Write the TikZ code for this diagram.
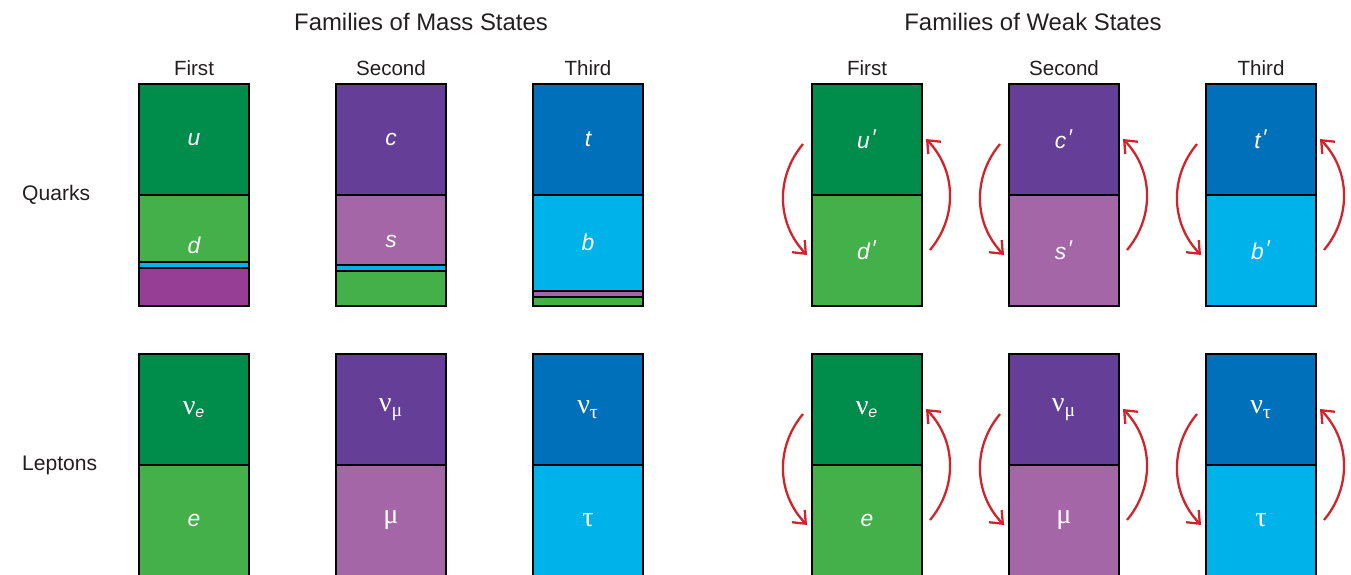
\documentclass[tikz,border=0pt]{standalone}
\usepackage{fontspec}
\setmainfont{Liberation Sans}
\newfontfamily\greek{Liberation Serif}
\usetikzlibrary{positioning,arrows.meta}

\definecolor{dkgreen}{RGB}{0,140,75}
\definecolor{ltgreen}{RGB}{67,176,74}
\definecolor{dkpurple}{RGB}{100,62,151}
\definecolor{ltpurple}{RGB}{165,102,168}
\definecolor{mdpurple}{RGB}{150,62,150}
\definecolor{dkblue}{RGB}{0,112,186}
\definecolor{ltblue}{RGB}{0,178,234}
\definecolor{flipred}{RGB}{210,35,42}
\definecolor{ink}{RGB}{35,31,32}

\newcommand{\gr}[1]{{\greek\fontsize{16}{18}\selectfont #1}}
\newcommand{\nusub}[1]{\gr{ν\textsubscript{#1}}}
\newcommand{\wk}[1]{{\itshape #1}\kern1.5pt\raisebox{1.5pt}{′}}

\tikzset{
  cell/.style={draw, line width=1.3pt, outer sep=0pt, inner sep=0pt,
    minimum width=2.2cm, minimum height=2.22cm, text=white,
    font=\fontsize{13}{15}\selectfont},
  lift/.style={text depth=#1},
  head/.style={text=ink, font=\fontsize{13.6}{16}\selectfont},
  col/.style={text=ink, font=\fontsize{11.7}{14}\selectfont},
  row/.style={text=ink, anchor=west, font=\fontsize{12}{14}\selectfont},
  stripe/.style={draw, line width=0.8pt},
  flip/.style={draw=flipred, line width=1.3pt,
    -{Straight Barb[length=6pt,width=10pt]}, bend right=42},
}

\begin{document}
\begin{tikzpicture}
      \useasboundingbox (0,0) rectangle (27.02,-11.5);

      % mass states
      \node[head] (mass) at (8.42,-0.44) {Families of Mass States};
      \node[cell,fill=dkgreen] (u) at (3.88,-2.79) {\itshape u};
      \node[cell,fill=ltgreen,lift=0.2cm,below=0pt of u] (d) {\itshape d};
      \node[cell,fill=dkpurple] (c) at (7.82,-2.79) {\itshape c};
      \node[cell,fill=ltpurple,lift=0.36cm,below=0pt of c] (s) {\itshape s};
      \node[cell,fill=dkblue] (t) at (11.76,-2.79) {\itshape t};
      \node[cell,fill=ltblue,lift=0.32cm,below=0pt of t] (b) {\itshape b};

      \node[col,above=1pt of u] (first) {First};
      \node[col,above=1pt of c] (second) {Second};
      \node[col,above=1pt of t] (third) {Third};

      % admixtures at the bottom of the lower states
      \filldraw[stripe,fill=mdpurple] (d.south west) rectangle ([yshift=0.76cm]d.south east);
      \filldraw[stripe,fill=ltblue] ([yshift=0.76cm]d.south west) rectangle ([yshift=0.88cm]d.south east);
      \draw[line width=1.3pt] (d.north west) rectangle (d.south east);
      \filldraw[stripe,fill=ltgreen] (s.south west) rectangle ([yshift=0.7cm]s.south east);
      \filldraw[stripe,fill=ltblue] ([yshift=0.7cm]s.south west) rectangle ([yshift=0.82cm]s.south east);
      \draw[line width=1.3pt] (s.north west) rectangle (s.south east);
      \filldraw[stripe,fill=ltgreen] (b.south west) rectangle ([yshift=0.18cm]b.south east);
      \filldraw[stripe,fill=ltpurple] ([yshift=0.18cm]b.south west) rectangle ([yshift=0.3cm]b.south east);
      \draw[line width=1.3pt] (b.north west) rectangle (b.south east);

      \node[cell,fill=dkgreen] (nue) at (3.88,-8.19) {\gr{ν}\textsubscript{\itshape e}};
      \node[cell,fill=ltgreen,below=0pt of nue] (e) {\itshape e};
      \node[cell,fill=dkpurple] (numu) at (7.82,-8.19) {\nusub{μ}};
      \node[cell,fill=ltpurple,below=0pt of numu] (mu) {\gr{μ}};
      \node[cell,fill=dkblue] (nutau) at (11.76,-8.19) {\nusub{τ}};
      \node[cell,fill=ltblue,below=0pt of nutau] (tau) {\gr{τ}};

      \node[row] (quarks) at (0.32,-3.9) {Quarks};
      \node[row] (leptons) at (0.32,-9.3) {Leptons};

      % weak states
      \node[head] (weak) at (20.66,-0.44) {Families of Weak States};
      \node[cell,fill=dkgreen] (uw) at (17.34,-2.79) {\wk{u}};
      \node[cell,fill=ltgreen,below=0pt of uw] (dw) {\wk{d}};
      \node[cell,fill=dkpurple] (cw) at (21.28,-2.79) {\wk{c}};
      \node[cell,fill=ltpurple,below=0pt of cw] (sw) {\wk{s}};
      \node[cell,fill=dkblue] (tw) at (25.22,-2.79) {\wk{t}};
      \node[cell,fill=ltblue,below=0pt of tw] (bw) {\wk{b}};

      \node[col,above=1pt of uw] (firstw) {First};
      \node[col,above=1pt of cw] (secondw) {Second};
      \node[col,above=1pt of tw] (thirdw) {Third};

      \node[cell,fill=dkgreen] (nuew) at (17.34,-8.19) {\gr{ν}\textsubscript{\itshape e}};
      \node[cell,fill=ltgreen,below=0pt of nuew] (ew) {\itshape e};
      \node[cell,fill=dkpurple] (numuw) at (21.28,-8.19) {\nusub{μ}};
      \node[cell,fill=ltpurple,below=0pt of numuw] (muw) {\gr{μ}};
      \node[cell,fill=dkblue] (nutauw) at (25.22,-8.19) {\nusub{τ}};
      \node[cell,fill=ltblue,below=0pt of nutauw] (tauw) {\gr{τ}};

      % mixing arrows
      \draw[flip] ([xshift=-0.18cm,yshift=-1.2cm]uw.north west) to ([xshift=-0.1cm,yshift=-1.2cm]dw.north west);
      \draw[flip] ([xshift=0.16cm,yshift=-1.1cm]dw.north east) to ([xshift=0.08cm,yshift=-1.1cm]uw.north east);
      \draw[flip] ([xshift=-0.18cm,yshift=-1.2cm]cw.north west) to ([xshift=-0.1cm,yshift=-1.2cm]sw.north west);
      \draw[flip] ([xshift=0.16cm,yshift=-1.1cm]sw.north east) to ([xshift=0.08cm,yshift=-1.1cm]cw.north east);
      \draw[flip] ([xshift=-0.18cm,yshift=-1.2cm]tw.north west) to ([xshift=-0.1cm,yshift=-1.2cm]bw.north west);
      \draw[flip] ([xshift=0.16cm,yshift=-1.1cm]bw.north east) to ([xshift=0.08cm,yshift=-1.1cm]tw.north east);
      \draw[flip] ([xshift=-0.18cm,yshift=-1.2cm]nuew.north west) to ([xshift=-0.1cm,yshift=-1.2cm]ew.north west);
      \draw[flip] ([xshift=0.16cm,yshift=-1.1cm]ew.north east) to ([xshift=0.08cm,yshift=-1.1cm]nuew.north east);
      \draw[flip] ([xshift=-0.18cm,yshift=-1.2cm]numuw.north west) to ([xshift=-0.1cm,yshift=-1.2cm]muw.north west);
      \draw[flip] ([xshift=0.16cm,yshift=-1.1cm]muw.north east) to ([xshift=0.08cm,yshift=-1.1cm]numuw.north east);
      \draw[flip] ([xshift=-0.18cm,yshift=-1.2cm]nutauw.north west) to ([xshift=-0.1cm,yshift=-1.2cm]tauw.north west);
      \draw[flip] ([xshift=0.16cm,yshift=-1.1cm]tauw.north east) to ([xshift=0.08cm,yshift=-1.1cm]nutauw.north east);
    \end{tikzpicture}
\end{document}
